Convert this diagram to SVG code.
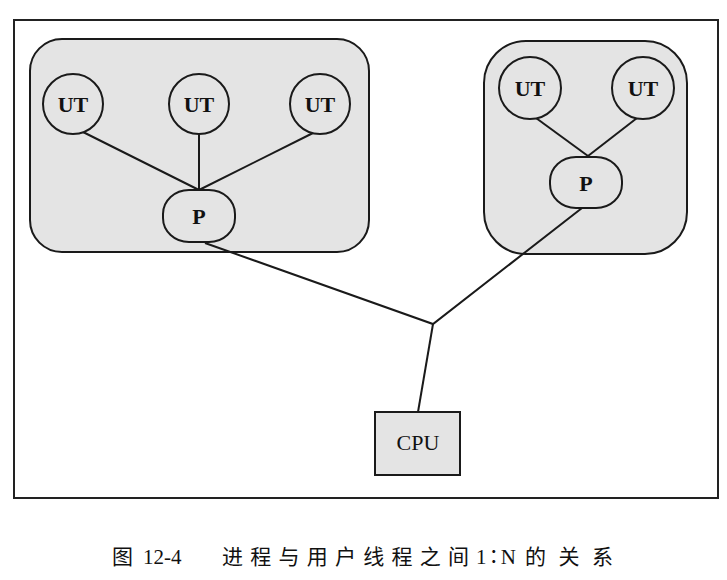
<svg xmlns="http://www.w3.org/2000/svg" width="727" height="580" viewBox="0 0 727 580">
<style>
.frame{fill:#fff;stroke:#222;stroke-width:2}
.grp{fill:#e4e4e4;stroke:#1a1a1a;stroke-width:2}
.node{fill:#e4e4e4;stroke:#1a1a1a;stroke-width:2}
.lbl{font-family:"Liberation Serif","Times New Roman",serif;font-size:22px;font-weight:bold;fill:#111;text-anchor:middle}
.cpu{font-family:"Liberation Serif","Times New Roman",serif;font-size:22px;fill:#111;text-anchor:middle}
.edge{stroke:#1a1a1a;stroke-width:2;fill:none}
.cap{font-family:"Liberation Serif","Noto Sans CJK SC",serif;font-size:21px;fill:#111}
.capc{font-family:"Noto Sans CJK SC",sans-serif;font-size:21px;fill:#111}
</style>
<rect width="727" height="580" fill="#fff"/>
<rect class="frame" x="14" y="20" width="704" height="478"/>
<g id="process1">
<rect class="grp" x="30" y="39" width="339" height="213" rx="32"/>
</g>
<g id="process2">
<rect class="grp" x="484" y="41" width="203" height="213" rx="42"/>
</g>
<g id="connectors">
<line class="edge" x1="83" y1="132" x2="199" y2="190"/>
<line class="edge" x1="199" y1="134" x2="199" y2="190"/>
<line class="edge" x1="313" y1="133" x2="199" y2="190"/>
<line class="edge" x1="536" y1="118" x2="588" y2="156"/>
<line class="edge" x1="637" y1="118" x2="588" y2="156"/>
<polyline class="edge" points="205,243 433,324 582,208"/>
<line class="edge" x1="433" y1="324" x2="418" y2="412"/>
</g>
<g id="ut1"><circle class="node" cx="73" cy="104" r="30"/><text class="lbl" x="73" y="112">UT</text></g>
<g id="ut2"><circle class="node" cx="199" cy="104" r="30"/><text class="lbl" x="199" y="112">UT</text></g>
<g id="ut3"><circle class="node" cx="320" cy="104" r="30"/><text class="lbl" x="320" y="112">UT</text></g>
<g id="p1"><rect class="node" x="163" y="190" width="72" height="52" rx="26" ry="24"/><text class="lbl" x="199" y="224">P</text></g>
<g id="ut4"><circle class="node" cx="530" cy="88" r="31"/><text class="lbl" x="530" y="96">UT</text></g>
<g id="ut5"><circle class="node" cx="643" cy="88" r="31"/><text class="lbl" x="643" y="96">UT</text></g>
<g id="p2"><rect class="node" x="550" y="157" width="72" height="51" rx="26" ry="24"/><text class="lbl" x="586" y="191">P</text></g>
<g id="cpu"><rect class="node" x="375" y="412" width="85" height="63"/><text class="cpu" x="418" y="450">CPU</text></g>
<g id="caption">
<text class="capc" x="112" y="564">图</text>
<text class="cap" x="143" y="564">12-4</text>
<text class="capc" x="222" y="564" textLength="247" lengthAdjust="spacing">进程与用户线程之间</text>
<text class="cap" x="476" y="564" textLength="40" lengthAdjust="spacing">1∶N</text>
<text class="capc" x="525" y="564" textLength="88" lengthAdjust="spacing">的关系</text>
</g>
</svg>
